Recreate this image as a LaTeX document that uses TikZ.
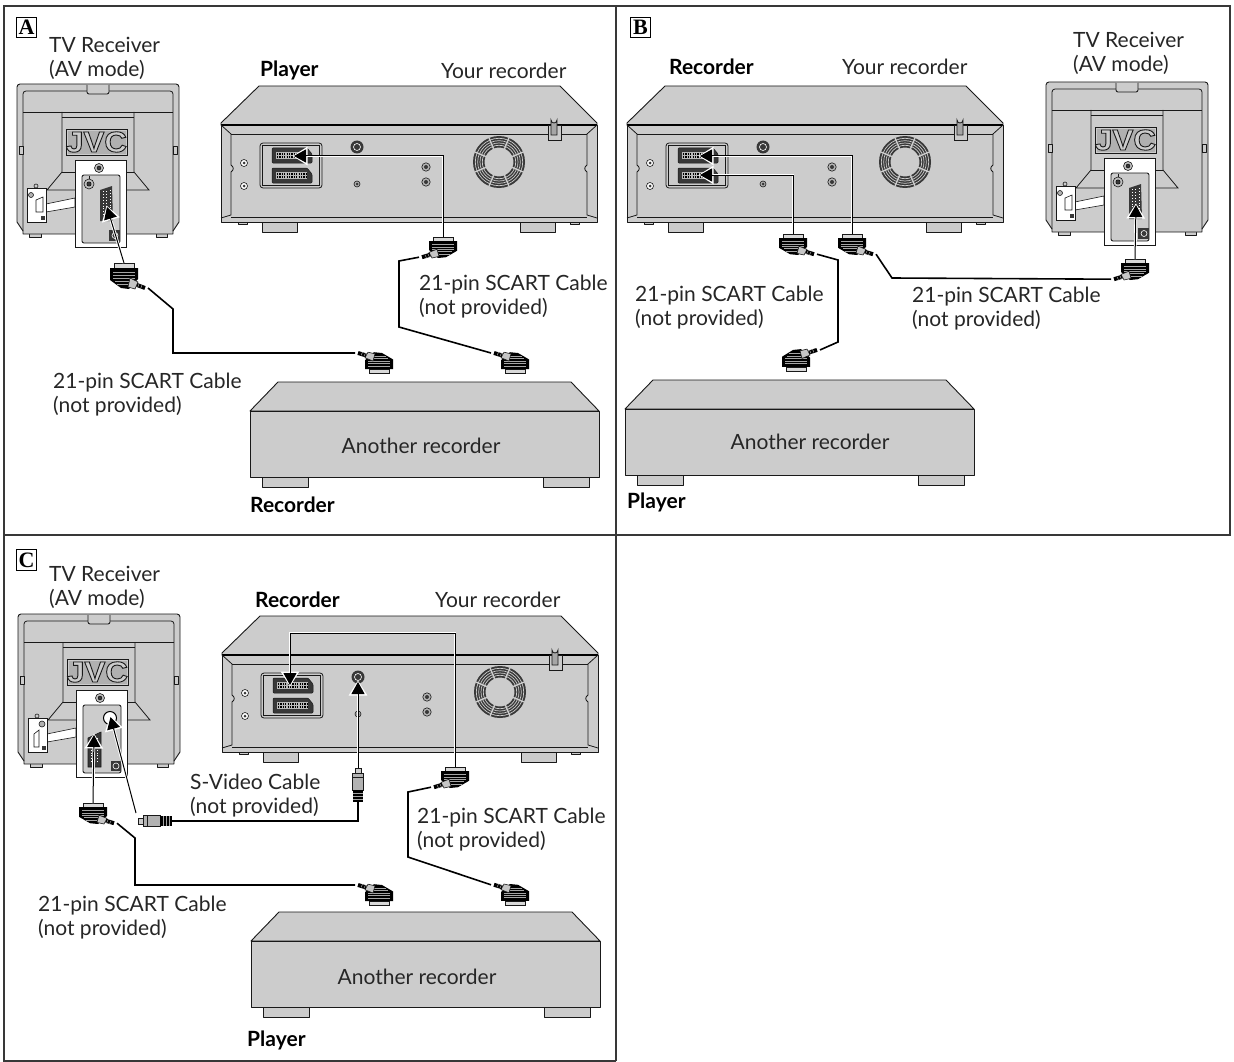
\documentclass[tikz,border=0pt]{standalone}
\usepackage{fontspec}
\setmainfont{Lato}
\newfontfamily\jvcfont[FakeStretch=1.08]{Liberation Sans Bold}
\newfontfamily\boxfont{Liberation Serif Bold}
\usetikzlibrary{arrows.meta}
\definecolor{body}{gray}{0.8}
\definecolor{rim}{gray}{0.1}
\definecolor{dk}{gray}{0.22}
\tikzset{
  case/.style={draw=rim,line width=0.9pt,fill=body,line join=round},
  ln/.style={draw=rim,line width=0.8pt},
  fine/.style={draw=rim,line width=0.6pt},
  cable/.style={draw=black,line width=1.6pt,line join=miter},
  halo/.style={draw=white,line width=2.8pt,-{Triangle[length=15pt,width=18pt]},shorten >=-1.5pt},
  conn/.style={draw=black,line width=1pt,-{Triangle[length=12pt,width=13pt]}},
  panelline/.style={draw=dk,line width=1.1pt},
  txt/.style={font=\fontsize{21}{24}\selectfont,anchor=base west,inner sep=0pt,text=black!85},
  btxt/.style={font=\fontsize{21}{24}\selectfont\bfseries,anchor=base west,inner sep=0pt,text=black},
  ctr/.style={font=\fontsize{21}{24}\selectfont,anchor=base,inner sep=0pt,text=black!85},
  letterbox/.style={draw=black,line width=1.1pt,minimum size=20.5pt,inner sep=0pt,font=\fontsize{22}{22}\boxfont}
}
\newcommand{\lbl}[5][txt]{\node[#1] (#2) at (#3,#4+7) {#5};}
\newcommand{\connect}[1]{\draw[halo] #1; \draw[conn] #1;}
% TV back: #1 name, #2 dx, #3 dy, #4 variant (0 = scart right, 1 = S-video)
\newcommand{\tvback}[4]{%
\begin{scope}[shift={(#2,#3)}]
  \foreach \a/\b in {46/53,142/150}{\draw[case] (\a,84) rectangle (\b,90);}
  \foreach \a/\b in {29/41,156/167}{\draw[case] (\a,232) rectangle (\b,237);}
  \draw[case] (17,90) [rounded corners=3pt] -- (17,84) -- (179,84) [sharp corners] -- (179,222) -- (173,231) -- (173,234) -- (23,234) -- (23,231) -- (17,222) -- cycle;
  \draw[ln] [rounded corners=3pt] (23,231) -- (23,91) -- (173,91) -- (173,231);
  \draw[case,rounded corners=2pt] (87,85) -- (87,94) -- (109,94) -- (109,85);
  \draw[ln] (23,112) -- (173,112);
  \draw[ln] (62,112) -- (62,172) -- (47,190) -- (149,190) -- (134,172) -- (134,112);
  \draw[ln] (62,117) -- (134,117);
  \draw[ln] (62,172) -- (134,172);
  \draw[case] (19,146) rectangle (23,154);
  \draw[case] (173,146) rectangle (177,154);
  \draw[fill=gray!62,draw=rim,line width=0.7pt] (66,129) rectangle (127,155);
  \draw[draw=body,line width=0.5pt] (67.2,130.2) rectangle (125.8,153.8);
  \node[inner sep=0pt,font=\fontsize{29}{29}\jvcfont,text=body] (#1-logo) at (96.5,142) {\special{pdf:code q 2 Tr 0.9 w 0.1 G}JVC\special{pdf:code Q}};
  \draw[fine,fill=white] (46,204) -- (75,198) -- (75,207) -- (46,212) -- cycle;
  \draw[fine,fill=white] (75,160) rectangle (126,247);
  \draw[case,rounded corners=2pt,line width=0.9pt] (82,175) rectangle (120,243);
  \draw[fine,fill=body] (36,186) circle[radius=2];
  \draw[fine,fill=white] (27,188) rectangle (46,222);
  \draw[fine,fill=gray!50] (99,168) circle[radius=4.5];
  \draw[fill=dk] (99,168) circle[radius=2];
  \ifnum#4=0
    \draw[fine,fill=gray!60] (31,195) circle[radius=2.5];
    \draw[fine,fill=white] (36,200) -- (43,197) -- (43,212) -- (36,212) -- cycle;
    \fill[dk] (41,216) rectangle (45,220);
    \draw[fine,fill=gray!50] (89,184) circle[radius=5];
    \draw[fill=dk] (89,184) circle[radius=2.2];
    \draw[fine] (89,176) -- (89,179);
    \fill[dk] (100,190) -- (112,186) -- (113,221) -- (100,221) -- cycle;
    \draw[white,dotted,line width=0.9pt] (103,191) -- (103,217);
    \draw[white,dotted,line width=0.9pt] (106.5,191) -- (106.5,217);
    \draw[white,dotted,line width=0.9pt] (110,190) -- (110,217);
    \fill[dk] (109,230) rectangle (120,241);
    \draw[white,line width=0.6pt] (115,235.5) circle[radius=3];
    \coordinate (#1-scart) at (107,207);
  \else
    \draw[fine,fill=gray!60] (41,194) circle[radius=3];
    \draw[fine,fill=white] (33,204) -- (38,200) -- (38,217) -- (33,217) -- cycle;
    \fill[dk] (41,216) rectangle (45,220);
    \draw[fill=white,draw=black,line width=1pt] (109,188) circle[radius=6.5];
    \draw[fine,fill=dk] (87,208) -- (100,202) -- (100,237) -- (87,237) -- cycle;
    \draw[white,dotted,line width=0.9pt] (90,208) -- (90,234);
    \draw[white,dotted,line width=0.9pt] (96,208) -- (96,234);
    \fill[dk] (110,231) rectangle (120,241);
    \draw[white,line width=0.6pt] (115,236) circle[radius=3];
    \coordinate (#1-scart) at (93,205);
    \coordinate (#1-sv) at (109.5,187);
  \fi
\end{scope}}
% VCR back
\newcommand{\scartport}[2]{%
  \draw[fill=dk,draw=rim,line width=0.5pt,rounded corners=1pt] (#1,#2) -- (#1+35,#2) -- (#1+40,#2+6) -- (#1+40,#2+15) -- (#1,#2+15) -- cycle;
  \fill[gray!55] (#1+4,#2+4) rectangle (#1+35,#2+11);
  \draw[black,line width=1.4pt,dash pattern=on 1.2pt off 1.2pt] (#1+5,#2+6) -- (#1+34,#2+6);
  \draw[black,line width=1.4pt,dash pattern=on 1.2pt off 1.2pt] (#1+5,#2+9) -- (#1+34,#2+9);}
\newcommand{\vcrback}[3]{%
\begin{scope}[shift={(#2,#3)}]
  \draw[case] (259,86) -- (560,86) -- (597,123) -- (597,125) -- (221,125) -- (221,123) -- cycle;
  \foreach \a in {262,520}{\draw[case] (\a,222) rectangle (\a+35,232);}
  \foreach \a in {238,570}{\draw[case] (\a,222) rectangle (\a+9,224);}
  \draw[case] (221,125) rectangle (597,222);
  \draw[black,line width=1.2pt] (221,125) -- (597,125);
  \draw[ln] (231,134) -- (587,134);
  \draw[ln] (221,125) -- (231,134) -- (231,165) .. controls (234,167) and (234,170) .. (231,172) -- (231,215) -- (221,218);
  \draw[ln] (597,125) -- (587,134) -- (587,165) .. controls (584,167) and (584,170) .. (587,172) -- (587,215) -- (597,218);
  \draw[ln] (231,217) -- (587,217);
  \draw[ln,fill=body,rounded corners=3pt] (260,143) rectangle (322,188);
  \draw[fine] (262.5,145.5) rectangle (319.5,185.5);
  \scartport{272}{148}
  \scartport{272}{168}
  \foreach \x/\y in {244/163,244/186}{\draw[fine,fill=white] (\x,\y) circle[radius=3.5]; \fill[dk] (\x,\y) circle[radius=1.5];}
  \foreach \x/\y in {426/167,426/182}{\draw[fine,fill=gray!60] (\x,\y) circle[radius=4.2]; \fill[dk] (\x,\y) circle[radius=2];}
  \draw[fine,fill=gray!60] (357,184) circle[radius=3]; \fill[dk] (357,184) circle[radius=1.5];
  \fill[dk] (357,147) circle[radius=6.5];
  \draw[white,line width=0.6pt] (357,147) circle[radius=3.5];
  \fill[dk,even odd rule] (499,162) circle[radius=26] (499,162) circle[radius=14.5];
  \foreach \r in {16.7,19,21.3,23.7}{\draw[draw=body,line width=0.7pt] (499,162) circle[radius=\r];}
  \foreach \a in {22.5,67.5,...,337.5}{\draw[draw=body,line width=1.4pt] (499,162) ++(\a:14) -- ++(\a:12.5);}
  \draw[fine,fill=body] (548,125) rectangle (561,140);
  \draw[ln,fill=gray!70] (551,135) -- (551,120) arc[start angle=180,end angle=0,radius=3] -- (557,135) -- cycle;
  \coordinate (#1-s1) at (294,156);
  \coordinate (#1-s2) at (294,175);
  \coordinate (#1-s1t) at (289,155);
  \coordinate (#1-sv) at (357,152);
\end{scope}}
% plain other recorder
\newcommand{\otherrec}[3]{%
\begin{scope}[shift={(#2,#3)}]
  \foreach \a in {262,543}{\draw[case] (\a,477) rectangle (\a+46,487);}
  \draw[case] (278,382) -- (571,382) -- (599,411) -- (250,411) -- cycle;
  \draw[case] (250,411) rectangle (599,477);
\end{scope}}
% SCART plug: #1 name, #2 x, #3 y, #4 xscale, #5 yscale
\newcommand{\scartplug}[5]{%
\begin{scope}[shift={(#2,#3)},xscale=#4,yscale=#5]
  \draw[fine,fill=gray!30] (-10,-16) rectangle (10,-11);
  \fill[black] (-14,-11) -- (14,-11) -- (14,0) -- (5,10) -- (-3,9) -- (-14,1) -- cycle;
  \foreach \s/\w in {-7/11,-4/11,-1/11,2/9,5/7}{\draw[gray!70,line width=0.45pt] (-\w,\s) -- (\w,\s);}
  \draw[fine,fill=gray!45] (6,-1) -- (14,3) -- (11,10) -- (4,8) -- cycle;
  \draw[line width=4pt,black] (13,6) -- (21,9);
  \draw[gray!60,line width=0.5pt] (15,5) -- (13.5,9);
  \draw[gray!60,line width=0.5pt] (18,6) -- (16.5,10);
  \coordinate (#1-h) at (0,-16);
  \coordinate (#1-c) at (24,9);
\end{scope}}
% S-video plug
\newcommand{\svplug}[4]{%
\begin{scope}[shift={(#2,#3)},rotate=#4]
  \draw[fine,fill=gray!40] (-3,-17) rectangle (3,-12);
  \draw[fine,fill=gray!60] (-5.5,-12) rectangle (5.5,5);
  \draw[fine] (-5.5,-8) -- (5.5,-8);
  \fill[black] (-5,5) rectangle (5,17);
  \foreach \s in {8,11,14}{\draw[gray!70,line width=0.6pt] (-5,\s) -- (5,\s);}
  \coordinate (#1-h) at (0,-17);
  \coordinate (#1-c) at (0,17);
\end{scope}}
\begin{document}
\begin{tikzpicture}[x=1pt,y=-1pt]
\useasboundingbox (0,0) rectangle (1234,1062);
\fill[white] (0,0) rectangle (1234,1062);
% frame
\coordinate (ftl) at (4,6); \coordinate (ftr) at (1230,6); \coordinate (fbl) at (4,1061);
\coordinate (fm) at (616,6); \coordinate (fmb) at (616,1061);
\coordinate (hl) at (4,535); \coordinate (hr) at (1230,535);
\draw[panelline] (fmb) -- (fbl) -- (ftl) -- (ftr) -- (hr) -- (hl);
\draw[panelline] (fm) -- (fmb);
\node[letterbox] (boxA) at (26.5,27.5) {A};
\node[letterbox] (boxB) at (640.5,27.5) {B};
\node[letterbox] (boxC) at (26.5,560) {C};

%%%% PANEL A
\tvback{tvA}{0}{0}{0}
\vcrback{vcrA}{0}{0}
\otherrec{recA}{0}{0}
\scartplug{a1}{124}{279}{1}{1}
\scartplug{a2}{443}{250}{-1}{0.8}
\scartplug{a3}{379}{360.2}{-1}{-0.8}
\scartplug{a4}{515}{360.2}{-1}{-0.8}
\coordinate (a1k) at (173,309); \coordinate (a1l) at (173,353);
\draw[cable] (a1-c) -- (a1k) -- (a1l) -- (a3-c);
\coordinate (a2k) at (399,261); \coordinate (a2l) at (399,327);
\draw[cable] (a2-c) -- (a2k) -- (a2l) -- (a4-c);
\connect{(a1-h) -- (tvA-scart)}
\connect{(a2-h) |- (vcrA-s1)}
\lbl{ta1}{49}{46}{TV Receiver}
\lbl{ta2}{49}{70}{(AV mode)}
\lbl[btxt]{ta3}{260}{70}{Player}
\lbl{ta4}{441}{72}{Your recorder}
\lbl{ta5}{419}{283}{21-pin SCART Cable}
\lbl{ta6}{419}{307}{(not provided)}
\lbl{ta7}{53}{381}{21-pin SCART Cable}
\lbl{ta8}{53}{405}{(not provided)}
\lbl[ctr]{ta9}{421}{446}{Another recorder}
\lbl[btxt]{ta10}{250}{505}{Recorder}

%%%% PANEL B
\vcrback{vcrB}{406}{0}
\tvback{tvB}{1029}{-2}{0}
\otherrec{recB}{375}{-2}
\scartplug{b1}{793}{247}{1}{0.8}
\scartplug{b2}{852}{247}{1}{0.8}
\scartplug{b3}{1135}{272}{-1}{0.8}
\scartplug{b4}{796}{357.6}{1}{-0.85}
\coordinate (b1k) at (838,260); \coordinate (b1l) at (838,342);
\draw[cable] (b1-c) -- (b1k) -- (b1l) -- (b4-c);
\coordinate (b2k) at (892,278);
\draw[cable] (b2-c) -- (b2k) -- (b3-c);
\connect{(b1-h) |- (vcrB-s2)}
\connect{(b2-h) |- (vcrB-s1)}
\connect{(b3-h) -- (tvB-scart)}
\lbl[btxt]{tb1}{669}{68}{Recorder}
\lbl{tb2}{842}{68}{Your recorder}
\lbl{tb3}{1073}{41}{TV Receiver}
\lbl{tb4}{1073}{65}{(AV mode)}
\lbl{tb5}{635}{294}{21-pin SCART Cable}
\lbl{tb6}{635}{318}{(not provided)}
\lbl{tb7}{912}{295}{21-pin SCART Cable}
\lbl{tb8}{912}{319}{(not provided)}
\lbl[ctr]{tb9}{810}{442}{Another recorder}
\lbl[btxt]{tb10}{627}{501}{Player}

%%%% PANEL C
\tvback{tvC}{1}{530}{1}
\vcrback{vcrC}{1}{530}
\otherrec{recC}{1}{530}
\scartplug{c1}{93}{816}{1}{0.8}
\scartplug{c2}{455}{780}{-1}{0.8}
\scartplug{c3}{379}{892.2}{-1}{-0.8}
\scartplug{c4}{515}{892}{-1}{-0.8}
\svplug{sh}{155}{821}{90}
\svplug{sv}{358}{785}{0}
\coordinate (c1k) at (135,838); \coordinate (c1l) at (135,885);
\draw[cable] (c1-c) -- (c1k) -- (c1l) -- (c3-c);
\coordinate (c2k) at (408,792); \coordinate (c2l) at (408,857);
\draw[cable] (c2-c) -- (c2k) -- (c2l) -- (c4-c);
\coordinate (svk) at (358,821);
\draw[cable] (sh-c) -- (svk) -- (sv-c);
\coordinate (shs) at (136,813);
\connect{(c1-h) -- (tvC-scart)}
\connect{(shs) -- (tvC-sv)}
\connect{(sv-h) -- (vcrC-sv)}
\coordinate (c2t) at (455,633); \coordinate (c2u) at (290,633);
\connect{(c2-h) -- (c2t) -- (c2u) -- (vcrC-s1t)}
\lbl{tc1}{49}{574}{TV Receiver}
\lbl{tc2}{49}{598}{(AV mode)}
\lbl[btxt]{tc3}{255}{600}{Recorder}
\lbl{tc4}{435}{600}{Your recorder}
\lbl{tc5}{190}{782}{S-Video Cable}
\lbl{tc6}{190}{806}{(not provided)}
\lbl{tc7}{417}{816}{21-pin SCART Cable}
\lbl{tc8}{417}{840}{(not provided)}
\lbl{tc9}{38}{904}{21-pin SCART Cable}
\lbl{tc10}{38}{928}{(not provided)}
\lbl[ctr]{tc11}{417}{977}{Another recorder}
\lbl[btxt]{tc12}{247}{1039}{Player}
\end{tikzpicture}
\end{document}
